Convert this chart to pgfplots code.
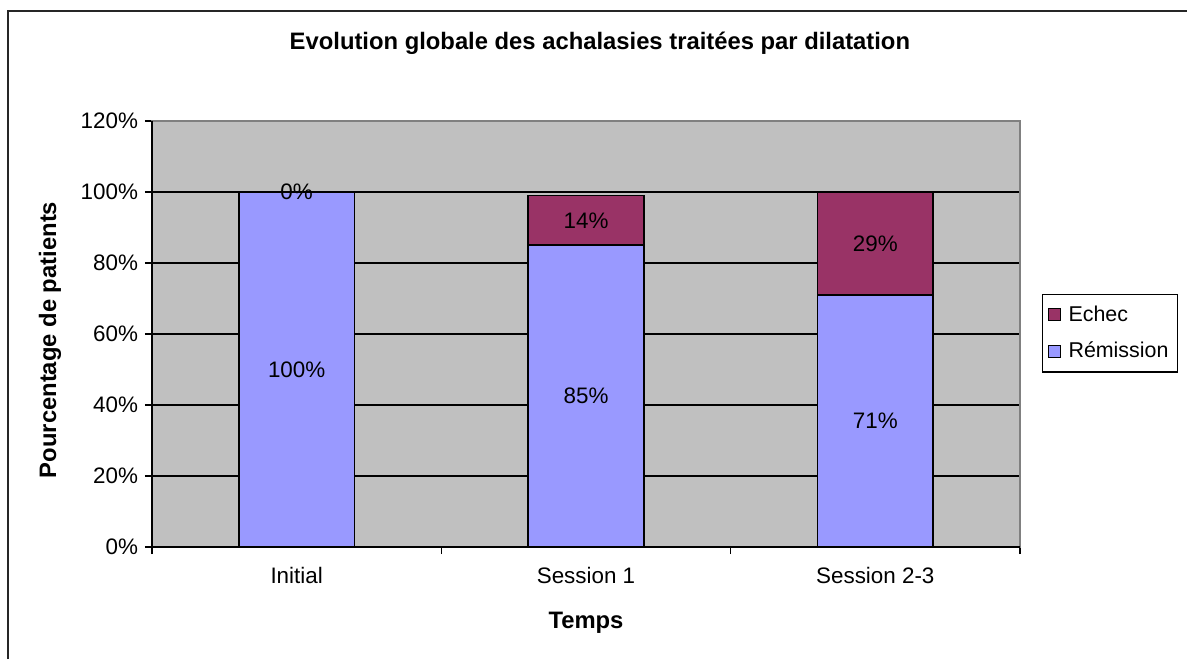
\documentclass[border=0pt]{standalone}
\usepackage{pgfplots}
\pgfplotsset{compat=1.18}
\usepackage{pgfplotstable}
\usepackage{fontspec}
\setmainfont{Liberation Sans}

\definecolor{remission}{HTML}{9999FF}
\definecolor{echec}{HTML}{993366}
\definecolor{plotbg}{HTML}{C0C0C0}
\definecolor{plotframe}{HTML}{808080}
\newcommand\chartfont{\fontsize{11.2}{13.4}\selectfont}
\newcommand\headfont{\fontsize{11.9}{14}\selectfont\bfseries}
\newcommand\legfont{\fontsize{10.7}{12.8}\selectfont}

% values in percent, one table per series
\pgfplotstableread{
x val
0 100
1 85
2 71
}\remission
\pgfplotstableread{
x val
0 0
1 14
2 29
}\echec
% where the data labels sit (middle of each segment)
\pgfplotstableread{
x mid val
0 50   100
1 42.5 85
2 35.5 71
0 100  0
1 92   14
2 85.5 29
}\labels

\pgfplotsset{
  chartgeom/.style={
    at={(76pt,56pt)}, anchor=south west,
    scale only axis, width=434pt, height=213pt,
    xmin=-0.5, xmax=2.5, ymin=0, ymax=120,
    clip=false,
  },
}

\begin{document}
\begin{tikzpicture}
\useasboundingbox (0,0) rectangle (593.5pt,329.5pt);
% chart frame (only left and top edges are inside the picture)
\draw[line width=1pt, black!85] (4pt,0) -- (4pt,324pt) -- (593.5pt,324pt);
\begin{axis}[
  chartgeom,
  ybar stacked, bar width=0.4,
  xtick={-0.5,0.5,1.5,2.5}, xticklabels={},
  extra x ticks={0,1,2},
  extra x tick labels={Initial,Session 1,Session 2-3},
  extra x tick style={major tick length=0pt, grid=none},
  ytick={0,20,...,120},
  yticklabels={0\%,20\%,40\%,60\%,80\%,100\%,120\%},
  xtick pos=bottom, ytick pos=left,
  tick align=outside, major tick length=3.5pt,
  tick style={black, line width=0.6pt},
  tick label style={font=\chartfont},
  x tick label style={yshift=-6.5pt},
  ymajorgrids, grid style={black, line width=0.75pt},
  axis background/.style={fill=plotbg},
  axis line style={plotframe, line width=0.8pt},
  every axis title shift=0pt,
  title={Evolution globale des achalasies traitées par dilatation},
  title style={at={(rel axis cs:0.516,1.183)}, anchor=center, font=\headfont},
  xlabel={Temps},
  xlabel style={at={(rel axis cs:0.5,-0.177)}, anchor=center, font=\headfont},
  ylabel={Pourcentage de patients},
  ylabel style={at={(rel axis cs:-0.1175,0.486)}, anchor=center, font=\headfont},
  legend style={at={(rel axis cs:1.0253,0.5938)}, anchor=north west,
    draw=black, line width=0.6pt, font=\legfont,
    inner xsep=2.5pt, inner ysep=3.5pt, row sep=5pt,
    /tikz/every odd column/.append style={column sep=2pt}},
  legend cell align=left,
  reverse legend,
  legend image code/.code={\draw[#1,draw=black,line width=0.5pt] (0pt,-3pt) rectangle (6pt,3pt);},
]
\addplot[fill=remission, draw=black, line width=0.75pt]
  table[x=x, y=val] {\remission};
\addlegendentry{Rémission}
\addplot[fill=echec, draw=black, line width=0.75pt]
  table[x=x, y=val] {\echec};
\addlegendentry{Echec}
\draw[black, line width=0.8pt] (rel axis cs:0,1) -- (rel axis cs:0,0) -- (rel axis cs:1,0);
\end{axis}
% data labels, in a second axis with the same geometry
\begin{axis}[
  chartgeom, hide axis,
  point meta=explicit,
  nodes near coords={\pgfmathprintnumber[assume math mode=true,fixed,precision=0]{\pgfplotspointmeta}\%},
  every node near coord/.append style={anchor=center, font=\chartfont, black},
]
\addplot[draw=none, mark=none, only marks]
  table[x=x, y=mid, meta=val] {\labels};
\end{axis}
\end{tikzpicture}
\end{document}
